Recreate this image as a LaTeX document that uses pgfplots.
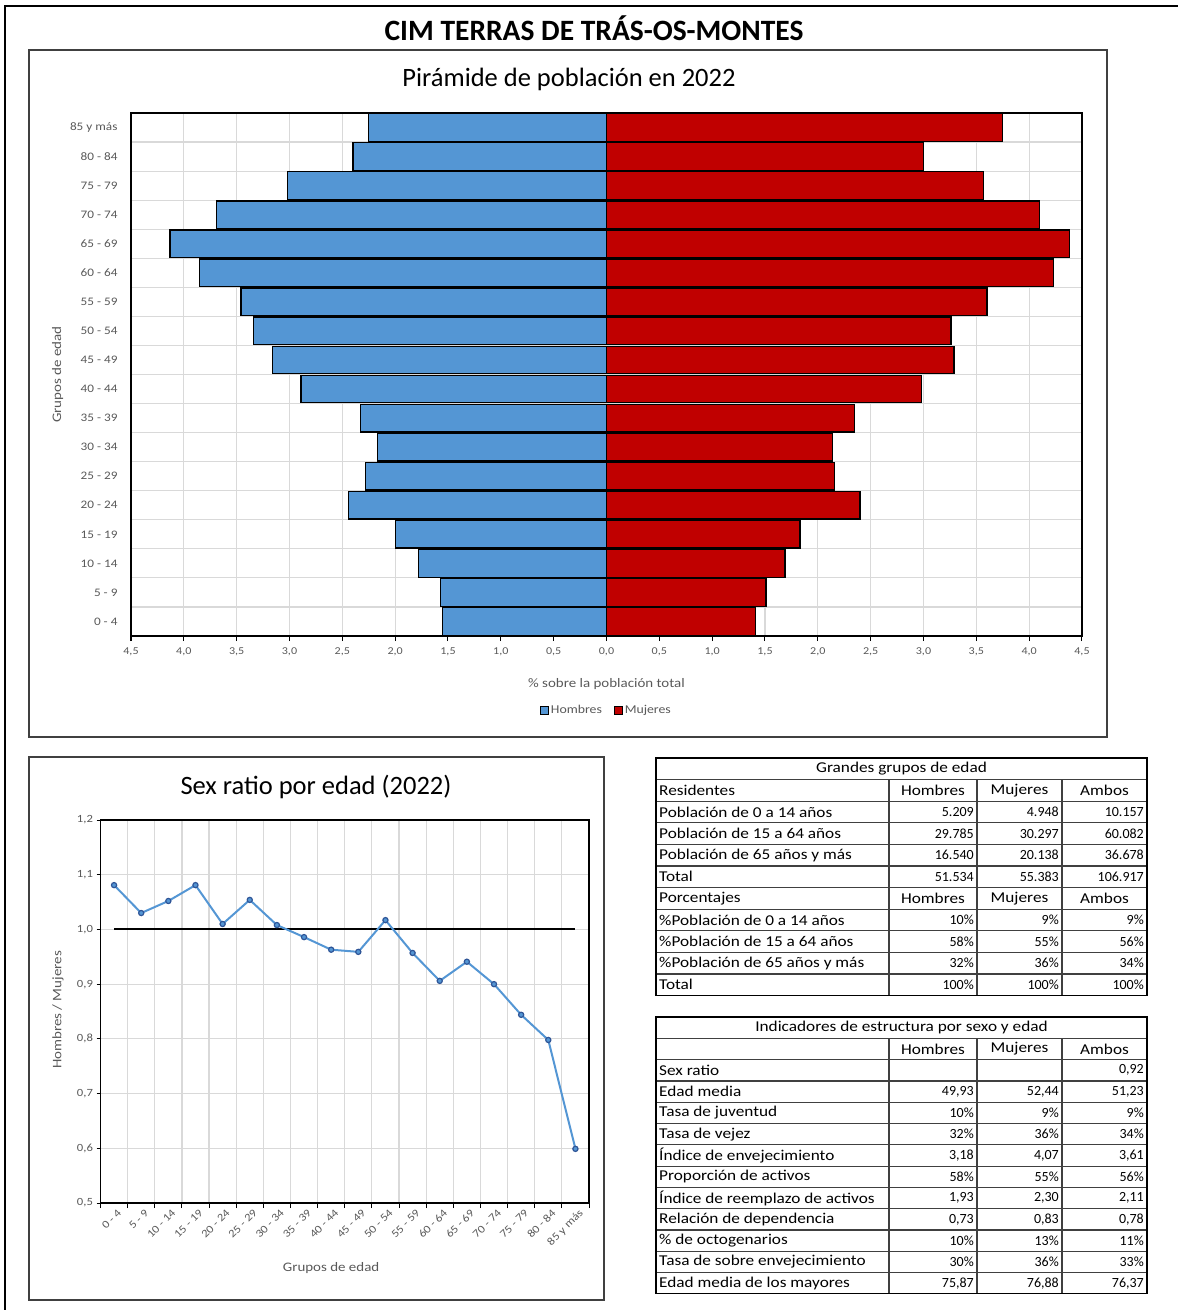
\documentclass[border=0pt]{standalone}
\usepackage{fontspec}
\setmainfont{Carlito}
\newfontfamily\wfont[FakeStretch=1.15]{Carlito}
\usepackage{pgfplots}
\usepackage{pgfplotstable}
\pgfplotsset{compat=1.18}
\definecolor{hblue}{RGB}{84,150,212}
\definecolor{mred}{RGB}{192,0,0}
\definecolor{gridc}{RGB}{217,217,217}
\definecolor{tickc}{RGB}{89,89,89}
\definecolor{mkblue}{RGB}{47,85,151}
\definecolor{framec}{RGB}{64,64,64}

\pgfplotstableread{
idx h m
0 1.55 1.41
1 1.57 1.51
2 1.78 1.69
3 2.00 1.83
4 2.44 2.40
5 2.28 2.16
6 2.17 2.14
7 2.33 2.35
8 2.89 2.98
9 3.16 3.29
10 3.34 3.26
11 3.46 3.60
12 3.85 4.23
13 4.13 4.38
14 3.69 4.10
15 3.02 3.57
16 2.40 3.00
17 2.25 3.75
}\pyr

\pgfplotstableread{
idx r
0 1.081
1 1.030
2 1.052
3 1.081
4 1.010
5 1.054
6 1.008
7 0.986
8 0.963
9 0.959
10 1.017
11 0.957
12 0.906
13 0.941
14 0.900
15 0.844
16 0.798
17 0.599
}\ratio

\newcommand{\tfont}{\wfont\fontsize{15}{17}\selectfont}
\newcommand{\nfont}{\fontsize{14}{16}\selectfont}
\newcommand{\trow}[5]{%
  \node[anchor=west,font=\tfont,inner sep=0pt] at (659,#1) {#2};
  \node[anchor=east,font=\nfont,inner sep=0pt] at (974,#1) {#3};
  \node[anchor=east,font=\nfont,inner sep=0pt] at (1059,#1) {#4};
  \node[anchor=east,font=\nfont,inner sep=0pt] at (1144,#1) {#5};}
\newcommand{\thead}[2]{%
  \node[anchor=west,font=\tfont,inner sep=0pt] at (659,#1) {#2};
  \node[font=\tfont,inner sep=0pt] at (933,#1) {Hombres};
  \node[font=\tfont,inner sep=0pt] at (1019.5,#1) {Mujeres};
  \node[font=\tfont,inner sep=0pt] at (1104.5,#1) {Ambos};}

\begin{document}
\begin{tikzpicture}[x=1pt,y=-1pt]
\useasboundingbox (0,0) rectangle (1178,1310);
% outer border
\draw[line width=1.5pt,black] (5,1310) -- (5,6) -- (1178,6);
\node[font=\fontsize{29.5}{32}\selectfont\bfseries] at (594,28) {CIM TERRAS DE TRÁS-OS-MONTES};

% pyramid frame
\draw[line width=1.3pt,framec] (29,50) rectangle (1107,737);
\node[font=\fontsize{26.5}{29}\selectfont] at (569,79) {Pirámide de población en 2022};

\begin{axis}[
  at={(131pt,-636pt)}, anchor=south west,
  scale only axis, width=951pt, height=523pt,
  xmin=-4.5, xmax=4.5, ymin=-0.5, ymax=17.5,
  xtick={-4.5,-4,...,4.5},
  xticklabel={\pgfmathparse{abs(\tick)}\pgfmathprintnumber[fixed,fixed zerofill,precision=1,use comma]{\pgfmathresult}},
  ytick={0,...,17},
  yticklabels={0 - 4,5 - 9,10 - 14,15 - 19,20 - 24,25 - 29,30 - 34,35 - 39,40 - 44,45 - 49,50 - 54,55 - 59,60 - 64,65 - 69,70 - 74,75 - 79,80 - 84,85 y más},
  minor ytick={-0.5,0.5,...,17.5},
  xmajorgrids, yminorgrids,
  grid style={gridc,line width=1.2pt},
  minor grid style={gridc,line width=1.2pt},
  axis line style={black,line width=1.6pt},
  tick align=outside, xtick pos=lower, ytick pos=left,
  xtick style={black,line width=1pt},
  major tick length=5pt, ytick style={draw=none}, minor tick length=0pt,
  /pgf/number format/assume math mode=true,
  xticklabel style={font=\wfont\fontsize{10.5}{12}\selectfont, text=tickc, yshift=-3pt},
  yticklabel style={font=\wfont\fontsize{11.5}{13}\selectfont, text=tickc, xshift=-5pt},
  xlabel={\% sobre la población total},
  xlabel style={at={(axis description cs:0.5,-0.092)},anchor=center,font=\wfont\fontsize{13}{15}\selectfont,text=tickc},
  ylabel={Grupos de edad},
  ylabel style={at={(axis description cs:-0.077,0.5)},anchor=center,rotate=0,font=\wfont\fontsize{13}{15}\selectfont,text=tickc},
  legend style={at={(axis description cs:0.5,-0.1415)},anchor=center,draw=none,fill=none,
    legend columns=2,font=\wfont\fontsize{12}{14}\selectfont,text=tickc,
    /tikz/every even column/.append style={column sep=10pt},
    nodes={inner xsep=2pt}},
  legend image code/.code={\draw[#1,line width=0.8pt] (0pt,-4pt) rectangle (8pt,4pt);},
]
\addplot[xbar, bar width=0.95, bar shift=0pt, fill=hblue, draw=black, line width=1.3pt] table[x expr=-\thisrow{h}, y=idx]{\pyr};
\addlegendentry{Hombres}
\addplot[xbar, bar width=0.95, bar shift=0pt, fill=mred, draw=black, line width=1.3pt] table[x=m, y=idx]{\pyr};
\addlegendentry{Mujeres}
\end{axis}

% sex ratio frame
\draw[line width=1.3pt,framec] (29,757) rectangle (604,1300);
\node[font=\fontsize{26.5}{29}\selectfont] at (316,787) {Sex ratio por edad (2022)};

\begin{axis}[
  at={(100.5pt,-1203pt)}, anchor=south west,
  scale only axis, width=488.5pt, height=383pt,
  xmin=-0.5, xmax=17.5, ymin=0.5, ymax=1.2,
  xtick={0,...,17},
  xticklabels={0 - 4,5 - 9,10 - 14,15 - 19,20 - 24,25 - 29,30 - 34,35 - 39,40 - 44,45 - 49,50 - 54,55 - 59,60 - 64,65 - 69,70 - 74,75 - 79,80 - 84,85 y más},
  minor xtick={-0.5,0.5,...,17.5},
  ytick={0.5,0.6,...,1.21},
  yticklabel style={/pgf/number format/.cd,fixed,fixed zerofill,precision=1,use comma},
  ymajorgrids, xminorgrids,
  grid style={gridc,line width=1.2pt},
  minor grid style={gridc,line width=1.2pt},
  axis line style={black,line width=1.6pt},
  tick align=outside, xtick pos=lower, ytick pos=left,
  major x tick style={draw=none}, minor x tick style={black,line width=1pt},
  minor tick length=5pt, major tick length=4pt,
  ytick style={black,line width=0.8pt},
  /pgf/number format/assume math mode=true,
  tick label style={font=\wfont\fontsize{11}{12}\selectfont, text=tickc},
  xticklabel style={rotate=45,anchor=north east,xshift=2pt,yshift=-2pt,font=\wfont\fontsize{11}{12}\selectfont,inner sep=1pt},
  xlabel={Grupos de edad},
  xlabel style={at={(axis description cs:0.472,-0.170)},anchor=center,font=\wfont\fontsize{13}{15}\selectfont,text=tickc},
  ylabel={Hombres / Mujeres},
  ylabel style={at={(axis description cs:-0.087,0.504)},anchor=center,font=\wfont\fontsize{13}{15}\selectfont,text=tickc},
]
\addplot[black,line width=2pt] coordinates {(0,1) (17,1)};
\addplot[hblue,line width=2pt,mark=*,mark size=2.6pt,mark options={fill=hblue,draw=mkblue,line width=1.2pt}] table[x=idx,y=r]{\ratio};
\end{axis}

% table 1
\begin{scope}
\foreach \k in {1,...,10} {\draw[line width=1.2pt,framec] (656,758+\k*21.6) -- (1147,758+\k*21.6);}
\foreach \xx in {889,977,1062} {\draw[line width=1.2pt,framec] (\xx,779.6) -- (\xx,995.6);}
\draw[line width=1.6pt,black] (656,758) rectangle (1147,995.6);
\node[font=\tfont] at (901.5,768.8) {Grandes grupos de edad};
\thead{790.4}{Residentes}
\trow{812.0}{Población de 0 a 14 años}{5.209}{4.948}{10.157}
\trow{833.6}{Población de 15 a 64 años}{29.785}{30.297}{60.082}
\trow{855.2}{Población de 65 años y más}{16.540}{20.138}{36.678}
\trow{876.8}{Total}{51.534}{55.383}{106.917}
\thead{898.4}{Porcentajes}
\trow{920.0}{\%Población de 0 a 14 años}{10\%}{9\%}{9\%}
\trow{941.6}{\%Población de 15 a 64 años}{58\%}{55\%}{56\%}
\trow{963.2}{\%Población de 65 años y más}{32\%}{36\%}{34\%}
\trow{984.8}{Total}{100\%}{100\%}{100\%}
\end{scope}

% table 2
\begin{scope}
\foreach \k in {1,...,12} {\draw[line width=1.2pt,framec] (656,1017+\k*21.3) -- (1147,1017+\k*21.3);}
\foreach \xx in {889,977,1062} {\draw[line width=1.2pt,framec] (\xx,1038.3) -- (\xx,1293.6);}
\draw[line width=1.6pt,black] (656,1017) rectangle (1147,1293.6);
\node[font=\tfont] at (901.5,1027.65) {Indicadores de estructura por sexo y edad};
\thead{1048.95}{}
\trow{1070.25}{Sex ratio}{}{}{0,92}
\trow{1091.55}{Edad media}{49,93}{52,44}{51,23}
\trow{1112.85}{Tasa de juventud}{10\%}{9\%}{9\%}
\trow{1134.15}{Tasa de vejez}{32\%}{36\%}{34\%}
\trow{1155.45}{Índice de envejecimiento}{3,18}{4,07}{3,61}
\trow{1176.75}{Proporción de activos}{58\%}{55\%}{56\%}
\trow{1198.05}{Índice de reemplazo de activos}{1,93}{2,30}{2,11}
\trow{1219.35}{Relación de dependencia}{0,73}{0,83}{0,78}
\trow{1240.65}{\% de octogenarios}{10\%}{13\%}{11\%}
\trow{1261.95}{Tasa de sobre envejecimiento}{30\%}{36\%}{33\%}
\trow{1283.25}{Edad media de los mayores}{75,87}{76,88}{76,37}
\end{scope}
\end{tikzpicture}
\end{document}
